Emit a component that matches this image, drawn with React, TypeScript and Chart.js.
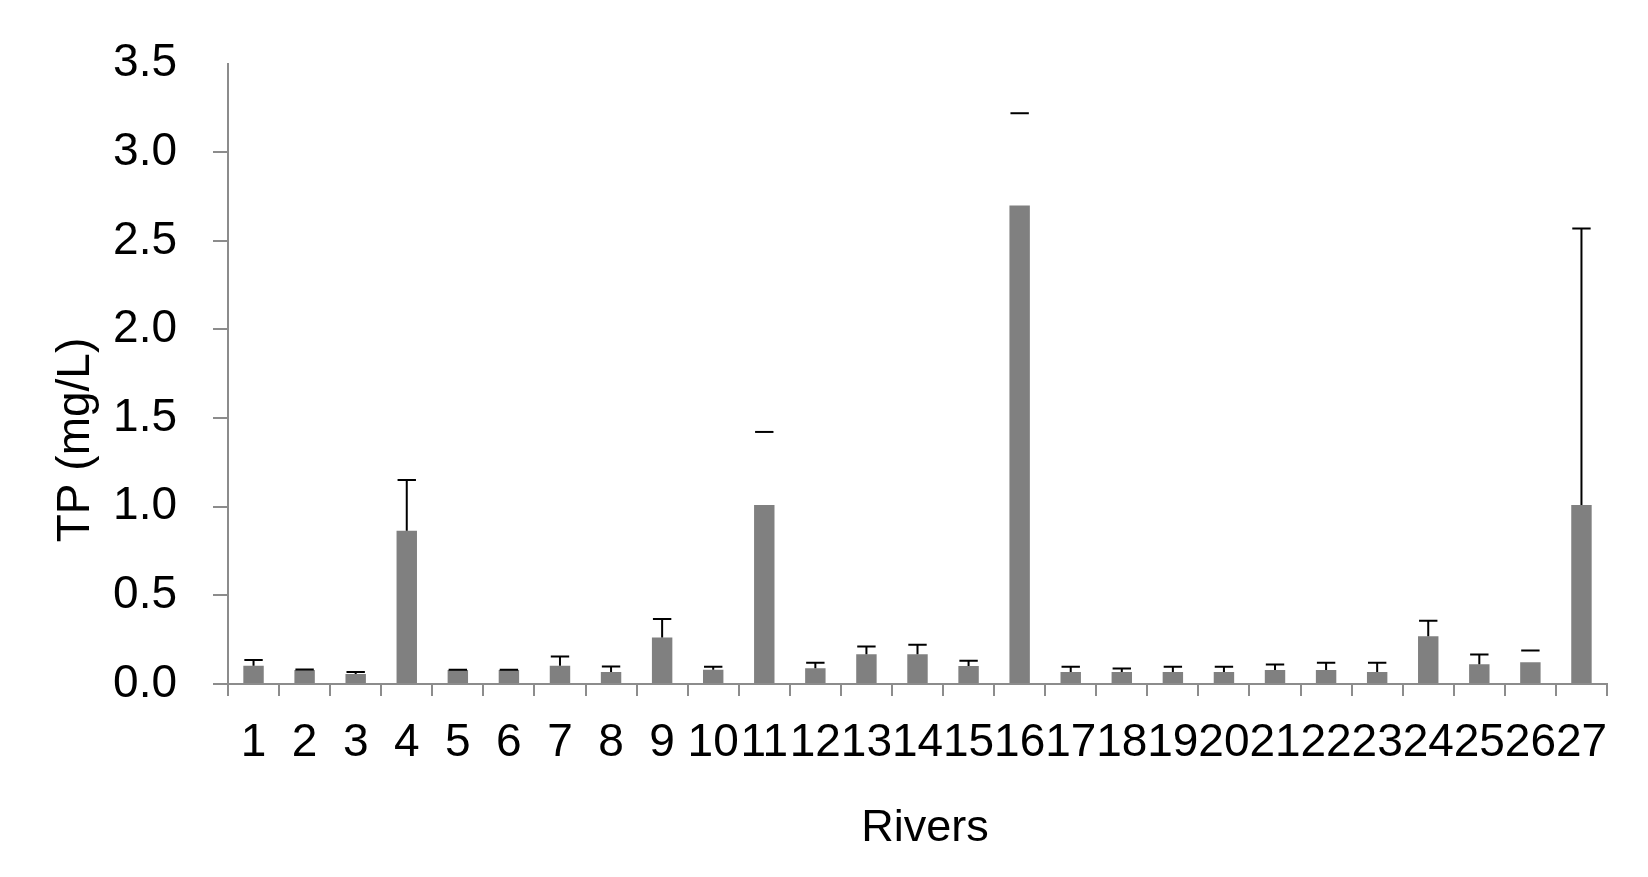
import React, { useEffect, useRef } from "react";
import { Chart, registerables } from "chart.js";

Chart.register(...registerables);

// ---- data ----
const rivers = [
  "1", "2", "3", "4", "5", "6", "7", "8", "9", "10", "11", "12", "13", "14",
  "15", "16", "17", "18", "19", "20", "21", "22", "23", "24", "25", "26", "27",
];
const tpMean = [
  0.103, 0.079, 0.056, 0.864, 0.079, 0.079, 0.103, 0.067, 0.262, 0.08, 1.01,
  0.089, 0.168, 0.168, 0.101, 2.7, 0.067, 0.067, 0.067, 0.067, 0.079, 0.079,
  0.067, 0.269, 0.112, 0.123, 1.01,
];
const tpSd = [
  0.032, 0.003, 0.011, 0.287, 0.002, 0.002, 0.052, 0.032, 0.105, 0.018, 0.412,
  0.031, 0.043, 0.054, 0.03, 0.52, 0.03, 0.021, 0.03, 0.03, 0.031, 0.041,
  0.053, 0.088, 0.054, 0.066, 1.56,
];
// rivers whose error bar shows only the cap in the original figure
const capOnlyRivers = ["11", "16", "26"];
const yMin = 0;
const yMax = 3.5;
const yStep = 0.5;
const xTitle = "Rivers";
const yTitle = "TP (mg/L)";

const FONT = "'Liberation Sans', Arial, sans-serif";
const AXIS = "#8c8c8c";

export default function App() {
  const ref = useRef<HTMLCanvasElement>(null);

  useEffect(() => {
    if (!ref.current) return;

    const errorBars = {
      id: "errorBars",
      afterDatasetsDraw(chart: any) {
        const meta = chart.getDatasetMeta(0);
        const ys = chart.scales.y;
        const ctx = chart.ctx;
        ctx.save();
        ctx.strokeStyle = "#000";
        ctx.lineWidth = 2;
        meta.data.forEach((bar: any, i: number) => {
          const p = bar.getProps(["x", "y", "width"], true);
          const yTop = ys.getPixelForValue(tpMean[i] + tpSd[i]);
          const half = p.width * 0.45;
          ctx.beginPath();
          if (!capOnlyRivers.includes(rivers[i])) {
            ctx.moveTo(p.x, p.y);
            ctx.lineTo(p.x, yTop);
          }
          ctx.moveTo(p.x - half, yTop);
          ctx.lineTo(p.x + half, yTop);
          ctx.stroke();
        });
        ctx.restore();
      },
    };

    const axisTitles = {
      id: "axisTitles",
      afterDraw(chart: any) {
        const ctx = chart.ctx;
        ctx.save();
        ctx.fillStyle = "#000";
        ctx.textAlign = "center";
        ctx.textBaseline = "middle";
        ctx.font = `45px ${FONT}`;
        ctx.fillText(xTitle, 925, 829);
        ctx.translate(76, 440);
        ctx.rotate(-Math.PI / 2);
        ctx.font = `46px ${FONT}`;
        ctx.fillText(yTitle, 0, 0);
        ctx.restore();
      },
    };

    const chart = new Chart(ref.current, {
      type: "bar",
      data: {
        labels: rivers,
        datasets: [
          {
            data: tpMean,
            backgroundColor: "#808080",
            borderWidth: 0,
            barPercentage: 0.4,
            categoryPercentage: 1,
          },
        ],
      },
      options: {
        animation: false,
        responsive: false,
        maintainAspectRatio: false,
        layout: { padding: { top: 58, right: 41, left: 0, bottom: 0 } },
        plugins: {
          legend: { display: false },
          tooltip: { enabled: false },
        },
        scales: {
          x: {
            ticks: {
              font: { family: FONT, size: 46 },
              color: "#000",
              padding: 20,
              autoSkip: false,
              maxRotation: 0,
              minRotation: 0,
            },
            grid: {
              drawOnChartArea: false,
              drawTicks: true,
              tickLength: 12,
              color: AXIS,
              lineWidth: 2,
              offset: true,
            },
            border: { color: AXIS, width: 2 },
            afterFit: (s: any) => {
              s.height = 193;
            },
          },
          y: {
            min: yMin,
            max: yMax,
            ticks: {
              stepSize: yStep,
              callback: (v: any) => Number(v).toFixed(1),
              font: { family: FONT, size: 46 },
              color: "#000",
              padding: 36,
            },
            grid: {
              drawOnChartArea: false,
              drawTicks: true,
              tickLength: 15,
              lineWidth: 2,
              color: (c: any) =>
                c.tick && c.tick.value === yMax ? "rgba(0,0,0,0)" : AXIS,
            },
            border: { color: AXIS, width: 2 },
            afterFit: (s: any) => {
              s.width = 228;
            },
          },
        },
      },
      plugins: [errorBars, axisTitles],
    } as any);

    return () => chart.destroy();
  }, []);

  return (
    <div
      style={{
        position: "fixed",
        left: 0,
        top: 0,
        width: 1648,
        height: 877,
        background: "#fff",
      }}
    >
      <canvas ref={ref} width={1648} height={877} />
    </div>
  );
}
